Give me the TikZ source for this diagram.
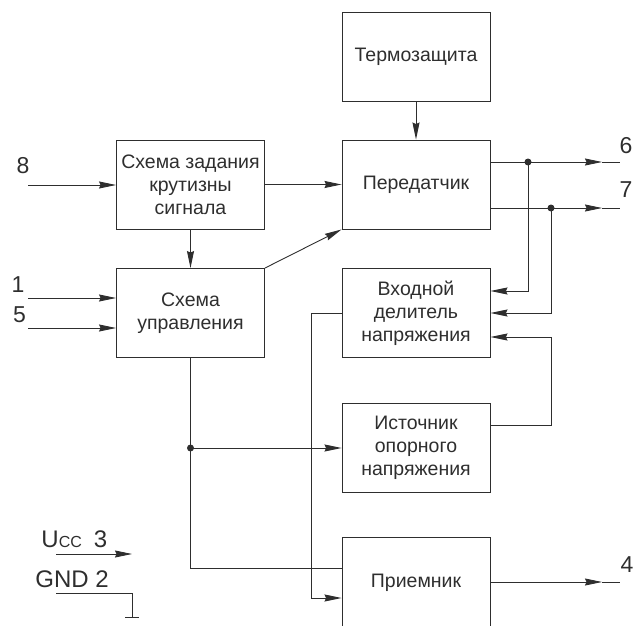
\documentclass[tikz,border=0pt]{standalone}
\usepackage{fontspec}
\setmainfont{Liberation Sans}
\usetikzlibrary{arrows.meta,calc}
\begin{document}
\begin{tikzpicture}[x=1pt,y=-1pt,
  line width=0.9pt, color=black!82,
  blk/.style={draw, rectangle, minimum width=148pt, minimum height=89pt, inner sep=2pt, align=center, font=\fontsize{19.5}{23}\selectfont},
  pin/.style={font=\fontsize{23}{23}\selectfont, inner sep=0pt},
  arr/.style={-{Stealth[length=17pt,width=7pt,inset=1.5pt]}},
  dot/.style={circle, fill, inner sep=0pt, minimum size=7pt}]
\useasboundingbox (0,0) rectangle (635,626);
\clip (0,0) rectangle (635,626);
% blocks
\node[blk] (term) at (416,57) {Термозащита};
\node[blk] (per) at (416,184.5) {Передатчик};
\node[blk] (shz) at (190.5,184.5) {Схема задания\\крутизны\\сигнала};
\node[blk] (shu) at (190.5,313) {Схема\\управления};
\node[blk] (vhod) at (416,313) {Входной\\делитель\\напряжения};
\node[blk] (ist) at (416,448) {Источник\\опорного\\напряжения};
\node[blk, minimum height=92pt] (priem) at (416,583) {Приемник};
% inputs
\coordinate (i8) at (28,185);
\coordinate (i1) at (28,298);
\coordinate (i5) at (28,328);
\node[pin] (l8) at (23,166) {8};
\node[pin] (l1) at (18,285) {1};
\node[pin] (l5) at (19.5,315) {5};
\draw[arr] (i8) -- (i8 -| shz.west);
\draw[arr] (i1) -- (i1 -| shu.west);
\draw[arr] (i5) -- (i5 -| shu.west);
\draw[arr] (shz.east) -- (per.west);
\draw[arr] (shz.south) -- (shu.north);
\draw[arr] (shu.north east) -- (per.south west);
\draw[arr] (term.south) -- (per.north);
% outputs 6,7
\coordinate (o6) at (620,162); \coordinate (t6) at (602,162);
\coordinate (o7) at (620,208); \coordinate (t7) at (602,208);
\node[dot] (d6) at (528,162) {};
\node[dot] (d7) at (551,208) {};
\draw[arr] (o6 -| per.east) -- (t6); \draw (t6) -- (o6);
\draw[arr] (o7 -| per.east) -- (t7); \draw (t7) -- (o7);
\node[pin] (l6) at (626,146) {6};
\node[pin] (l7) at (626,190) {7};
% feedback into divider
\coordinate (r3) at ([yshift=-24pt]vhod.east);
\draw[arr] (d6.center) |- ([yshift=22pt]vhod.east);
\draw[arr] (d7.center) |- (vhod.east);
\draw[arr] ([yshift=23pt]ist.east) -| (d7.center |- r3) -- (r3);
% control to reference and receiver
\node[dot] (dsh) at (shu.south |- ist.west) {};
\draw (shu.south) -- (dsh.center) |- ([yshift=15pt]priem.west);
\draw[arr] (dsh.center) -- (ist.west);
\coordinate (k) at (311,598);
\draw[arr] (vhod.west) -| (k) -- (k -| priem.west);
% output 4
\coordinate (o4) at (620,582); \coordinate (t4) at (602,582);
\draw[arr] (o4 -| priem.east) -- (t4); \draw (t4) -- (o4);
\node[pin] (l4) at (627,565) {4};
% supply
\node[anchor=base west, inner sep=0pt, font=\fontsize{24}{24}\selectfont] (ucc) at (41,547) {U{\fontsize{16}{16}\selectfont CC}\hspace{12pt}3};
\node[anchor=base west, inner sep=0pt, font=\fontsize{24}{24}\selectfont] (gnd) at (35,587) {GND 2};
\coordinate (u1) at (56,554); \coordinate (u2) at (132,554);
\draw[arr] (u1) -- (u2);
\coordinate (g1) at (56,593); \coordinate (g2) at (132,593); \coordinate (g3) at (132,617);
\coordinate (gl) at (125,617); \coordinate (gr) at (139,617);
\draw (g1) -- (g2) -- (g3);
\draw (gl) -- (gr);
\end{tikzpicture}
\end{document}
